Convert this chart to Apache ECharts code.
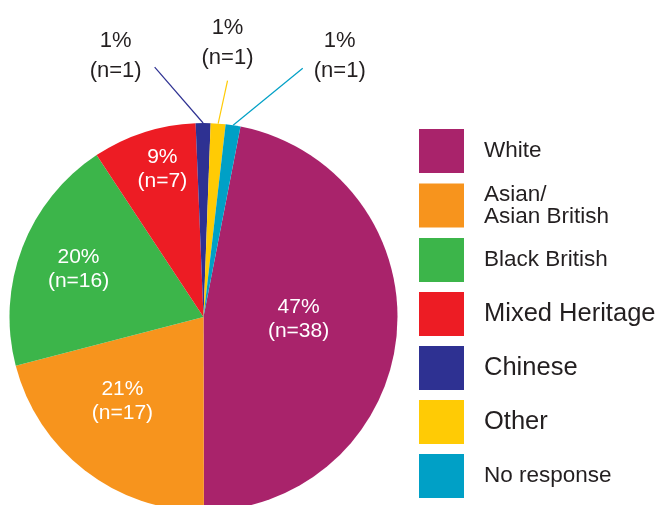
<!DOCTYPE html>
<html><head><meta charset="utf-8">
<script src="https://cdn.jsdelivr.net/npm/echarts@6/dist/echarts.min.js"></script>
<style>html,body{margin:0;padding:0;background:#fff}#c{width:659px;height:505px}</style>
</head><body><div id="c"></div>
<script>
const categories = ['White', 'Asian/\nAsian British', 'Black British', 'Mixed Heritage', 'Chinese', 'Other', 'No response'];
const counts = [38, 17, 16, 7, 1, 1, 1];
const colors = ['#a9236b', '#f7941d', '#3cb54a', '#ed1c24', '#2e3192', '#ffcb05', '#00a0c6'];
const legendFontSizes = [22.5, 22.5, 22.5, 25.5, 25.5, 25.5, 22.5];

const CX = 203.5, CY = 317, R = 194, START = 79;
const FONT = '"Liberation Sans", Arial, Helvetica, sans-serif';
const TEXT = '#231f20';

const total = counts.reduce((a, b) => a + b, 0);
const mids = [];
let acc = 90 - START;
counts.forEach(v => { const span = v / total * 360; mids.push(acc + span / 2); acc += span; });

// label placement styles (radius fraction + angle tweak, or outward leader line)
const insideLabel = {0: {r: 0.49, da: -4.3}, 1: {r: 0.603, da: 6.2}, 2: {r: 0.69, da: 0}, 3: {r: 0.789, da: 2.3}};
const outsideLabel = {4: {dir: -40.9, len: 74, dx: -39, dy: -11}, 5: {dir: 12.3, len: 44, dx: 0, dy: -38}, 6: {dir: 50.7, len: 90, dx: 37, dy: -12}};

function polar(r, deg) { const t = deg * Math.PI / 180; return [CX + r * Math.sin(t), CY - r * Math.cos(t)]; }

const seriesData = categories.map((name, i) => {
  const inside = !!insideLabel[i];
  return {
    name, value: counts[i],
    itemStyle: {color: colors[i], borderWidth: 0},
    label: inside
      ? {position: 'inside', color: '#fff', fontSize: 21, lineHeight: 24}
      : {position: 'outside', color: TEXT, fontSize: 22, lineHeight: 30},
    labelLine: {show: !inside, lineStyle: {color: colors[i], width: 1.2}}
  };
});

const chart = echarts.init(document.getElementById('c'), null, {renderer: 'canvas'});
chart.setOption({
  animation: false,
  backgroundColor: '#fff',
  legend: {
    orient: 'vertical', left: 419, top: 129, padding: 0,
    itemWidth: 45, itemHeight: 44, itemGap: 10, icon: 'rect',
    selectedMode: false,
    textStyle: {color: TEXT, fontFamily: FONT, fontSize: 22.5, lineHeight: 22, padding: [0, 0, 0, 15]},
    data: categories.map((name, i) => ({name, textStyle: {fontSize: legendFontSizes[i]}}))
  },
  series: [{
    type: 'pie',
    center: [CX, CY], radius: R,
    startAngle: START, clockwise: true,
    avoidLabelOverlap: false,
    label: {
      fontFamily: FONT,
      formatter: p => Math.round(p.percent) + '%\n(n=' + p.value + ')'
    },
    labelLayout: function (p) {
      const i = p.dataIndex;
      if (insideLabel[i]) {
        const s = insideLabel[i];
        const xy = polar(s.r * R, mids[i] + s.da);
        return {x: xy[0], y: xy[1], align: 'center', verticalAlign: 'middle'};
      }
      const s = outsideLabel[i];
      const p0 = polar(R, mids[i]);
      const t = s.dir * Math.PI / 180;
      const p1 = [p0[0] + s.len * Math.sin(t), p0[1] - s.len * Math.cos(t)];
      return {x: p1[0] + s.dx, y: p1[1] + s.dy, align: 'center', verticalAlign: 'middle', labelLinePoints: [p0, p1, p1]};
    },
    emphasis: {disabled: true},
    data: seriesData
  }]
});
</script></body></html>
